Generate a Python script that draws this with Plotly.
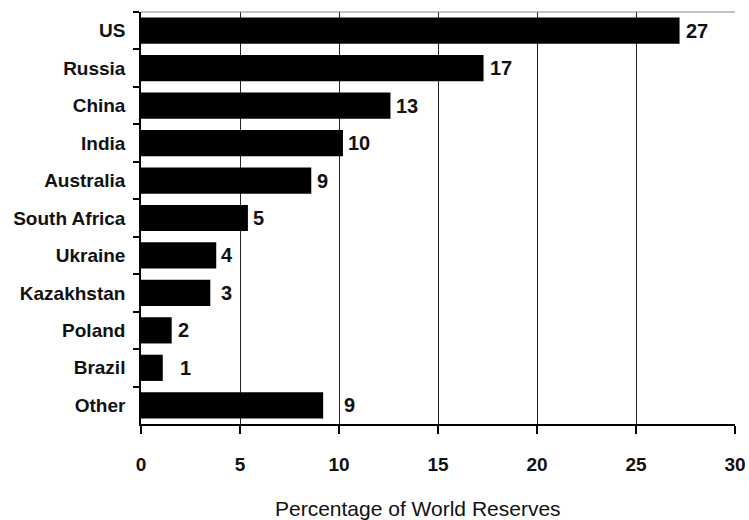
import plotly.graph_objects as go

countries = ["US", "Russia", "China", "India", "Australia", "South Africa",
             "Ukraine", "Kazakhstan", "Poland", "Brazil", "Other"]
values = [27.2, 17.3, 12.6, 10.2, 8.6, 5.4, 3.8, 3.5, 1.55, 1.1, 9.2]
labels = ["27", "17", "13", "10", "9", "5", "4", "3", "2", "1", "9"]
x_ticks = [0, 5, 10, 15, 20, 25, 30]

# style: pixel gap between bar end and its label
label_gap = [4, 4, 4, 3, 4, 3, 3, 9, 4, 15, 19]

FONT = "Liberation Sans, Arial, sans-serif"

fig = go.Figure()
fig.add_trace(go.Bar(
    y=countries, x=values, orientation="h",
    marker=dict(color="#000000", line=dict(width=0)),
    hoverinfo="skip",
))

for c, v, t, g in zip(countries, values, labels, label_gap):
    fig.add_annotation(
        x=v, y=c, xref="x", yref="y", text=t, showarrow=False,
        xanchor="left", yanchor="middle", xshift=g,
        font=dict(family=FONT, size=20, color="#111111", weight="bold"),
    )

fig.add_annotation(
    x=0.466, y=-0.204, xref="paper", yref="paper",
    text="Percentage of World Reserves", showarrow=False,
    xanchor="center", yanchor="middle",
    font=dict(family=FONT, size=21, color="#111111"),
)

# faint top frame line
fig.add_shape(type="line", xref="paper", yref="paper", x0=0, x1=1, y0=1, y1=1,
              line=dict(color="#888888", width=1))

fig.update_layout(
    width=749, height=520,
    margin=dict(l=141, r=14, t=12, b=96, autoexpand=False),
    paper_bgcolor="white", plot_bgcolor="white",
    bargap=0.3, showlegend=False,
)

fig.update_xaxes(
    range=[0, 30], tickvals=x_ticks, ticktext=[str(v) for v in x_ticks],
    showgrid=True, gridcolor="#222222", gridwidth=1,
    showline=True, linecolor="#000000", linewidth=1.5,
    ticks="outside", ticklen=8, tickcolor="#000000", tickwidth=1.5,
    tickfont=dict(family=FONT, size=19, color="#111111", weight="bold"),
    ticklabelstandoff=14,
    zeroline=False, fixedrange=True, automargin=False,
)
fig.update_yaxes(
    categoryorder="array", categoryarray=countries, autorange="reversed",
    showgrid=False, showline=True, linecolor="#000000", linewidth=1.5,
    ticks="outside", tickson="boundaries", ticklen=6, tickcolor="#000000", tickwidth=1.5,
    tickfont=dict(family=FONT, size=19, color="#111111", weight="bold"),
    ticklabelstandoff=10, fixedrange=True, automargin=False,
)

fig.write_html("out.html", config={"displayModeBar": False},
               post_script="document.body.style.margin='0';document.body.style.overflow='hidden';")
